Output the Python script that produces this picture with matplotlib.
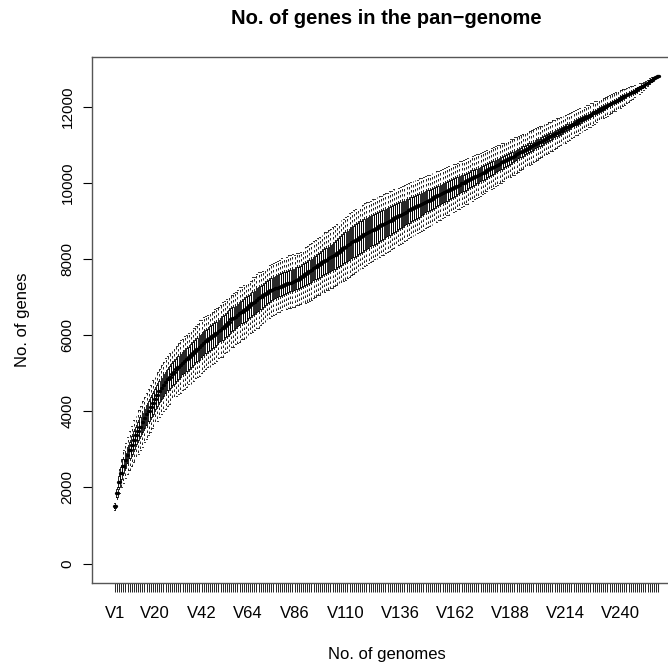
import matplotlib
matplotlib.use("Agg")
import matplotlib.pyplot as plt

# median number of genes in the pan-genome for 1..258 genomes
median = [
    1500, 1850, 2150, 2380, 2560, 2720, 2860, 2990, 3120, 3250,
    3370, 3490, 3600, 3710, 3820, 3920, 4020, 4120, 4220, 4330,
    4430, 4530, 4610, 4690, 4770, 4840, 4910, 4980, 5040, 5100,
    5160, 5220, 5270, 5320, 5370, 5420, 5480, 5530, 5590, 5640,
    5690, 5740, 5800, 5850, 5890, 5930, 5970, 6010, 6060, 6110,
    6150, 6200, 6250, 6300, 6360, 6420, 6450, 6490, 6540, 6580,
    6620, 6660, 6700, 6750, 6790, 6840, 6880, 6930, 6970, 7010,
    7050, 7090, 7120, 7150, 7180, 7210, 7230, 7250, 7280, 7300,
    7320, 7340, 7360, 7380, 7400, 7420, 7450, 7480, 7520, 7560,
    7600, 7640, 7680, 7720, 7760, 7800, 7840, 7880, 7920, 7960,
    7990, 8020, 8050, 8080, 8120, 8160, 8200, 8240, 8280, 8320,
    8360, 8400, 8440, 8470, 8510, 8540, 8580, 8610, 8650, 8680,
    8710, 8740, 8770, 8800, 8830, 8860, 8890, 8920, 8950, 8980,
    9010, 9040, 9070, 9100, 9130, 9160, 9190, 9220, 9250, 9280,
    9310, 9340, 9360, 9390, 9420, 9450, 9480, 9510, 9540, 9560,
    9590, 9620, 9650, 9680, 9700, 9730, 9760, 9790, 9820, 9840,
    9870, 9900, 9930, 9960, 9990, 10010, 10040, 10070, 10100, 10130,
    10160, 10190, 10210, 10240, 10270, 10300, 10330, 10360, 10390, 10420,
    10450, 10480, 10510, 10540, 10570, 10600, 10630, 10660, 10690, 10720,
    10750, 10780, 10810, 10840, 10870, 10900, 10930, 10960, 10990, 11020,
    11050, 11080, 11110, 11140, 11170, 11200, 11230, 11260, 11290, 11320,
    11350, 11380, 11410, 11440, 11470, 11500, 11530, 11560, 11590, 11620,
    11650, 11680, 11710, 11740, 11770, 11800, 11830, 11860, 11890, 11920,
    11950, 11980, 12010, 12040, 12070, 12100, 12130, 12160, 12190, 12220,
    12250, 12280, 12310, 12340, 12370, 12400, 12430, 12460, 12490, 12520,
    12560, 12600, 12640, 12680, 12720, 12750, 12780, 12800,
]

# distance from median down to Q1
box_low = [
    30, 100, 150, 170, 190, 200, 210, 220, 230, 240,
    240, 250, 250, 260, 260, 270, 270, 270, 280, 280,
    280, 290, 290, 290, 300, 290, 300, 300, 310, 300,
    310, 310, 300, 320, 310, 300, 320, 310, 300, 320,
    330, 310, 320, 310, 300, 320, 310, 320, 310, 300,
    310, 320, 300, 310, 320, 310, 320, 300, 310, 320,
    310, 320, 330, 310, 300, 320, 310, 320, 330, 310,
    300, 290, 280, 270, 260, 250, 250, 240, 240, 230,
    230, 230, 220, 230, 230, 240, 240, 250, 260, 270,
    280, 290, 300, 310, 320, 330, 330, 340, 340, 350,
    350, 360, 360, 370, 370, 380, 380, 390, 390, 400,
    400, 410, 410, 420, 420, 410, 420, 410, 420, 410,
    410, 400, 410, 390, 400, 390, 380, 390, 380, 370,
    370, 360, 360, 350, 350, 340, 340, 330, 330, 320,
    320, 310, 310, 300, 300, 290, 290, 280, 280, 270,
    270, 270, 260, 260, 260, 250, 250, 250, 240, 240,
    240, 230, 230, 230, 220, 220, 220, 210, 210, 210,
    200, 200, 200, 190, 190, 190, 180, 180, 180, 170,
    170, 170, 160, 160, 160, 150, 150, 150, 140, 140,
    140, 130, 130, 130, 120, 120, 120, 110, 110, 110,
    110, 100, 100, 100, 100, 90, 90, 90, 90, 90,
    80, 80, 80, 80, 80, 70, 70, 70, 70, 70,
    70, 60, 60, 60, 60, 60, 60, 50, 50, 50,
    50, 50, 50, 50, 40, 40, 40, 40, 40, 40,
    40, 40, 30, 30, 30, 30, 30, 30, 30, 30,
    20, 20, 20, 20, 10, 10, 10, 0,
]

# distance from median up to Q3
box_high = [
    30, 100, 140, 160, 180, 190, 200, 210, 220, 220,
    230, 230, 240, 240, 250, 250, 250, 260, 260, 260,
    270, 270, 270, 280, 270, 280, 280, 280, 290, 280,
    290, 290, 280, 300, 290, 280, 300, 290, 280, 300,
    310, 290, 300, 290, 280, 300, 290, 300, 290, 280,
    290, 300, 280, 290, 300, 290, 300, 280, 290, 300,
    290, 300, 310, 290, 280, 300, 290, 300, 310, 290,
    280, 290, 300, 310, 320, 310, 320, 330, 320, 330,
    340, 330, 340, 330, 340, 320, 330, 310, 300, 310,
    300, 290, 300, 290, 300, 290, 300, 290, 300, 310,
    300, 310, 320, 330, 340, 350, 360, 370, 380, 390,
    390, 400, 400, 410, 410, 400, 410, 400, 410, 400,
    400, 390, 400, 380, 390, 380, 370, 380, 370, 360,
    360, 350, 350, 340, 340, 330, 330, 320, 320, 310,
    310, 300, 300, 290, 290, 280, 280, 270, 270, 260,
    260, 260, 250, 250, 250, 240, 240, 240, 230, 230,
    230, 220, 220, 220, 210, 210, 210, 200, 200, 200,
    190, 190, 190, 180, 180, 180, 170, 170, 170, 160,
    160, 160, 150, 150, 150, 140, 140, 140, 130, 130,
    130, 120, 120, 120, 110, 110, 110, 100, 100, 100,
    100, 90, 90, 90, 90, 80, 80, 80, 80, 80,
    70, 70, 70, 70, 70, 60, 60, 60, 60, 60,
    60, 50, 50, 50, 50, 50, 50, 40, 40, 40,
    40, 40, 40, 40, 30, 30, 30, 30, 30, 30,
    30, 30, 20, 20, 20, 20, 20, 20, 20, 20,
    10, 10, 10, 10, 10, 10, 10, 0,
]

# distance from median down to the lower whisker end
whisk_low = [
    100, 200, 300, 380, 440, 480, 510, 540, 560, 580,
    600, 620, 610, 640, 630, 650, 640, 660, 670, 650,
    680, 670, 690, 680, 700, 690, 710, 680, 720, 700,
    710, 730, 700, 740, 720, 710, 750, 730, 720, 740,
    760, 730, 750, 740, 720, 760, 730, 750, 740, 720,
    730, 760, 720, 740, 770, 730, 750, 720, 740, 760,
    730, 750, 770, 740, 720, 760, 730, 750, 770, 740,
    720, 730, 700, 690, 680, 670, 660, 650, 660, 650,
    640, 650, 640, 660, 650, 670, 660, 680, 690, 700,
    760, 770, 780, 790, 780, 800, 790, 810, 800, 820,
    810, 830, 820, 840, 830, 850, 840, 860, 850, 870,
    860, 870, 850, 860, 840, 850, 830, 840, 820, 830,
    820, 810, 830, 800, 820, 810, 790, 810, 800, 780,
    790, 770, 780, 760, 770, 750, 760, 740, 750, 730,
    740, 720, 730, 710, 720, 700, 710, 690, 700, 680,
    690, 670, 680, 660, 670, 650, 660, 640, 650, 630,
    640, 630, 620, 630, 610, 620, 600, 610, 590, 600,
    590, 580, 570, 580, 560, 570, 550, 560, 540, 550,
    540, 530, 520, 530, 510, 520, 500, 510, 490, 500,
    490, 480, 470, 480, 460, 470, 450, 460, 440, 450,
    440, 430, 420, 430, 410, 420, 400, 410, 390, 400,
    390, 380, 370, 380, 360, 370, 350, 360, 340, 350,
    340, 330, 320, 330, 310, 320, 300, 310, 290, 300,
    290, 280, 270, 280, 260, 270, 250, 260, 240, 250,
    230, 220, 210, 200, 190, 180, 170, 160, 150, 140,
    120, 100, 90, 80, 60, 40, 20, 0,
]

# distance from median up to the upper whisker end
whisk_high = [
    100, 250, 330, 380, 420, 450, 470, 480, 500, 510,
    520, 540, 530, 560, 550, 570, 560, 580, 590, 570,
    600, 590, 610, 600, 620, 610, 630, 600, 640, 620,
    630, 650, 620, 660, 640, 630, 670, 650, 640, 660,
    700, 650, 680, 660, 640, 690, 650, 670, 660, 640,
    650, 680, 640, 660, 690, 650, 670, 640, 660, 680,
    650, 670, 690, 660, 640, 680, 650, 670, 690, 660,
    640, 650, 670, 690, 700, 680, 690, 710, 700, 720,
    730, 710, 740, 720, 730, 700, 720, 690, 680, 700,
    720, 700, 720, 700, 710, 690, 720, 700, 720, 740,
    730, 750, 740, 760, 750, 770, 760, 780, 770, 790,
    780, 800, 790, 810, 800, 790, 810, 800, 820, 810,
    800, 790, 810, 780, 800, 790, 770, 790, 780, 760,
    770, 750, 760, 740, 750, 730, 740, 720, 730, 710,
    720, 700, 710, 690, 700, 680, 690, 670, 680, 660,
    670, 650, 660, 640, 650, 630, 640, 620, 630, 610,
    620, 610, 600, 610, 590, 600, 580, 590, 570, 580,
    570, 560, 550, 560, 540, 550, 530, 540, 520, 530,
    520, 510, 500, 510, 490, 500, 480, 490, 470, 480,
    470, 460, 450, 460, 440, 450, 430, 440, 420, 430,
    420, 410, 400, 410, 390, 400, 380, 390, 370, 380,
    370, 360, 350, 360, 340, 350, 330, 340, 320, 330,
    320, 310, 300, 310, 290, 300, 280, 290, 270, 280,
    270, 260, 250, 260, 240, 250, 230, 240, 220, 230,
    210, 200, 190, 180, 170, 160, 150, 140, 130, 120,
    100, 90, 80, 70, 60, 40, 20, 0,
]

shown_labels = ["V1", "V20", "V42", "V64", "V86", "V110", "V136",
                "V162", "V188", "V214", "V240"]
y_ticks = [0, 2000, 4000, 6000, 8000, 10000, 12000]

plt.rcParams['font.family'] = ['Liberation Sans', 'DejaVu Sans']

n_genomes = len(median)
names = ["V%d" % (i + 1) for i in range(n_genomes)]

stats = []
for i in range(n_genomes):
    stats.append(dict(
        med=median[i],
        q1=median[i] - box_low[i],
        q3=median[i] + box_high[i],
        whislo=median[i] - whisk_low[i],
        whishi=median[i] + whisk_high[i],
        label=names[i],
    ))

fig = plt.figure(figsize=(6.68, 6.63), dpi=100)
ax = fig.add_axes([92 / 668, 80 / 663, 589 / 668, 526 / 663])

positions = list(range(1, n_genomes + 1))
ax.bxp(stats, positions=positions, widths=0.8, capwidths=0.4,
       showfliers=False,
       boxprops=dict(color='black', linewidth=0.6),
       whiskerprops=dict(color='black', linewidth=0.6, linestyle=(0, (3, 3))),
       capprops=dict(color='black', linewidth=0.6),
       medianprops=dict(color='black', linewidth=2.4, solid_capstyle='round'))

ax.set_xlim(0.5 - 0.04 * n_genomes, n_genomes + 0.5 + 0.04 * n_genomes)
ax.set_ylim(-512, 13312)

ax.set_xticks(positions)
ax.set_xticklabels([nm if nm in shown_labels else "" for nm in names])
ax.set_yticks(y_ticks)
ax.set_yticklabels([str(v) for v in y_ticks], rotation=90, va='center')

ax.tick_params(axis='x', length=6.5, width=0.6, pad=10, labelsize=12)
ax.tick_params(axis='y', length=6.5, width=0.8, pad=6, labelsize=11)
for sp in ax.spines.values():
    sp.set_color('#555555')
    sp.set_linewidth(1.0)

fig.text(386.5 / 668, 1 - 19 / 663, "No. of genes in the pan\u2212genome",
         ha='center', va='center', fontsize=14.5, fontweight='bold')
fig.text(386.5 / 668, 1 - 655 / 663, "No. of genomes",
         ha='center', va='center', fontsize=12)
fig.text(22 / 668, 1 - 320 / 663, "No. of genes",
         ha='center', va='center', fontsize=12, rotation=90)

fig.savefig("out.png", dpi=100)
